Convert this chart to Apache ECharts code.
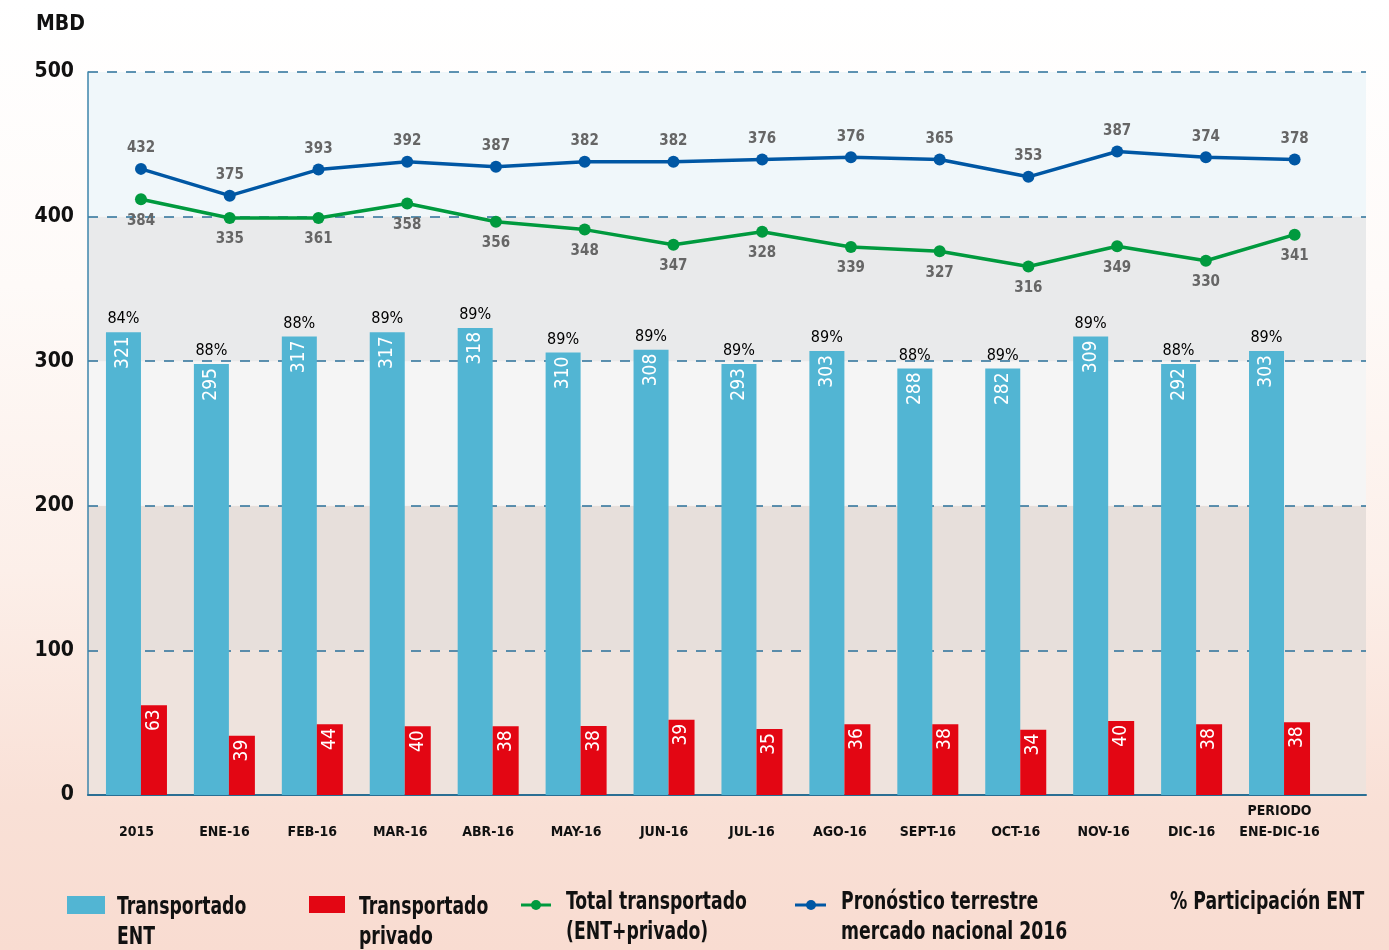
<!DOCTYPE html>
<html>
<head>
<meta charset="utf-8">
<script src="https://cdn.jsdelivr.net/npm/echarts@6/dist/echarts.min.js"></script>
<style>
  html, body { margin: 0; padding: 0; background: #fff; }
  #main { width: 1389px; height: 950px; }
</style>
</head>
<body>
<div id="main"></div>
<script>
// categorias y valores (alturas, etiquetas tal como aparecen)
var categories = ['2015', 'ENE-16', 'FEB-16', 'MAR-16', 'ABR-16', 'MAY-16', 'JUN-16', 'JUL-16',
  'AGO-16', 'SEPT-16', 'OCT-16', 'NOV-16', 'DIC-16', 'PERIODO\nENE-DIC-16'];
var entValues = [320, 298, 317, 320, 323, 306, 308, 298, 307, 295, 295, 317, 298, 307];
var entLabels = [321, 295, 317, 317, 318, 310, 308, 293, 303, 288, 282, 309, 292, 303];
var privValues = [62, 41, 49, 47.5, 47.5, 47.7, 52, 45.6, 49, 49, 45.2, 51.2, 49, 50.3];
var privLabels = [63, 39, 44, 40, 38, 38, 39, 35, 36, 38, 34, 40, 38, 38];
var totalValues = [412, 399, 399, 409, 396.5, 391, 380.5, 389.5, 379, 376, 365.5, 379.5, 369.5, 387.5];
var totalLabels = [384, 335, 361, 358, 356, 348, 347, 328, 339, 327, 316, 349, 330, 341];
var forecastValues = [433, 414.5, 432.5, 438, 434.5, 438, 438, 439.5, 441, 439.5, 427.5, 445, 441, 439.5];
var forecastLabels = [432, 375, 393, 392, 387, 382, 382, 376, 376, 365, 353, 387, 374, 378];
var pctLabels = ['84%', '88%', '88%', '89%', '89%', '89%', '89%', '89%', '89%', '88%', '89%', '89%', '88%', '89%'];
var yTicks = [0, 100, 200, 300, 400, 500];

var FONT = '"DejaVu Sans Condensed", "Liberation Sans Narrow", sans-serif';
var BLUE_BAR = '#52b5d3';
var RED_BAR = '#e30613';
var GREEN = '#009a3e';
var DARK_BLUE = '#0057a4';

var chart = echarts.init(document.getElementById('main'));

var hiddenY = { type: 'value', min: 0, max: 500, show: false };
var hiddenX = function (grid) {
  return { type: 'category', gridIndex: grid, data: categories, show: false };
};
function byIndex(arr) {
  return function (p) { return String(arr[p.dataIndex]); };
}
// texto de leyenda, comprimido en horizontal como la tipografia condensada del original
function legendText(x, y, txt) {
  return {
    type: 'text', x: x, y: y, scaleX: 0.8,
    style: { text: txt, font: 'bold 24px ' + FONT, fill: '#111', lineHeight: 30 }
  };
}

var option = {
  backgroundColor: {
    type: 'linear', x: 0, y: 0, x2: 0, y2: 1,
    colorStops: [
      { offset: 0, color: '#ffffff' },
      { offset: 0.3, color: '#fefaf8' },
      { offset: 0.6, color: '#fcefe9' },
      { offset: 0.85, color: '#f9e0d6' },
      { offset: 1, color: '#f9dcd1' }
    ]
  },
  title: {
    text: 'MBD', left: 31, top: 9,
    textStyle: { fontFamily: FONT, fontSize: 21, fontWeight: 'bold', color: '#111' }
  },
  grid: [
    { left: 88, right: 23, top: 72, bottom: 155 },     // fondo y ejes
    { left: 92.5, right: 65.5, top: 72, bottom: 155 }, // barras
    { left: 96.6, right: 50, top: 72, bottom: 155 },   // lineas
    { left: 79.5, right: 78.6, top: 72, bottom: 155 }  // % participacion
  ],
  xAxis: [
    {
      type: 'value', gridIndex: 0, min: 0, max: 1,
      axisLine: { show: true, lineStyle: { color: '#2a6f94', width: 2 } },
      axisTick: { show: false }, axisLabel: { show: false }, splitLine: { show: false }
    },
    {
      type: 'category', gridIndex: 1, data: categories,
      axisLine: { show: false }, axisTick: { show: false },
      axisLabel: {
        interval: 0, margin: 48, verticalAlign: 'bottom', lineHeight: 21,
        fontFamily: FONT, fontSize: 14, fontWeight: 'bold', color: '#111'
      }
    },
    hiddenX(2),
    hiddenX(3)
  ],
  yAxis: [
    {
      type: 'value', gridIndex: 0, min: 0, max: 500, interval: 100,
      axisLine: { show: true, lineStyle: { color: '#3d85ab', width: 1.5 } },
      axisTick: { show: false },
      axisLabel: {
        margin: 14, fontFamily: FONT, fontSize: 21, fontWeight: 'bold', color: '#111',
        formatter: function (v) { return yTicks.indexOf(v) >= 0 ? String(v) : ''; }
      },
      splitLine: { show: true, lineStyle: { color: '#2a7099', width: 1.5, type: [10, 9] } },
      splitArea: {
        show: true,
        areaStyle: { color: ['#eee3dd', '#e7dfdb', '#f5f5f5', '#e9eaeb', '#f0f7fa'] }
      }
    },
    Object.assign({ gridIndex: 1 }, hiddenY),
    Object.assign({ gridIndex: 2 }, hiddenY),
    Object.assign({ gridIndex: 3 }, hiddenY)
  ],
  graphic: [
    // leyenda
    { type: 'rect', shape: { x: 67, y: 896, width: 38, height: 18 }, style: { fill: BLUE_BAR } },
    legendText(117, 893, 'Transportado\nENT'),
    { type: 'rect', shape: { x: 309, y: 896, width: 36, height: 17 }, style: { fill: RED_BAR } },
    legendText(359, 893, 'Transportado\nprivado'),
    { type: 'line', shape: { x1: 521, y1: 905, x2: 551, y2: 905 }, style: { stroke: GREEN, lineWidth: 3 } },
    { type: 'circle', shape: { cx: 536, cy: 905, r: 5 }, style: { fill: GREEN } },
    legendText(566, 888, 'Total transportado\n(ENT+privado)'),
    { type: 'line', shape: { x1: 795, y1: 905, x2: 826, y2: 905 }, style: { stroke: DARK_BLUE, lineWidth: 3 } },
    { type: 'circle', shape: { cx: 811, cy: 905, r: 5 }, style: { fill: DARK_BLUE } },
    legendText(841, 888, 'Pronóstico terrestre\nmercado nacional 2016'),
    legendText(1170, 888, '% Participación ENT')
  ],
  series: [
    {
      name: 'Transportado ENT', type: 'bar', xAxisIndex: 1, yAxisIndex: 1,
      data: entValues, barWidth: 35, barGap: 0,
      itemStyle: { color: BLUE_BAR },
      label: {
        show: true, position: 'insideTop', rotate: 90, align: 'right', verticalAlign: 'middle',
        distance: 4, fontFamily: FONT, fontSize: 19, color: '#fff',
        formatter: byIndex(entLabels)
      }
    },
    {
      name: 'Transportado privado', type: 'bar', xAxisIndex: 1, yAxisIndex: 1,
      data: privValues, barWidth: 26,
      itemStyle: { color: RED_BAR },
      label: {
        show: true, position: 'insideTop', rotate: 90, align: 'right', verticalAlign: 'middle',
        distance: 4, fontFamily: FONT, fontSize: 19, color: '#fff',
        formatter: byIndex(privLabels)
      }
    },
    {
      name: '% Participación ENT', type: 'bar', xAxisIndex: 3, yAxisIndex: 3,
      data: entValues, barWidth: 35, silent: true,
      itemStyle: { color: 'rgba(0,0,0,0)' },
      label: {
        show: true, position: 'top', distance: 5,
        fontFamily: FONT, fontSize: 16, color: '#000',
        formatter: byIndex(pctLabels)
      }
    },
    {
      name: 'Total transportado (ENT+privado)', type: 'line', xAxisIndex: 2, yAxisIndex: 2,
      data: totalValues, symbol: 'circle', symbolSize: 12, z: 5,
      lineStyle: { color: GREEN, width: 3.5 }, itemStyle: { color: GREEN },
      label: {
        show: true, position: 'bottom', distance: 8,
        fontFamily: FONT, fontSize: 15, fontWeight: 'bold', color: '#666',
        formatter: byIndex(totalLabels)
      }
    },
    {
      name: 'Pronóstico terrestre mercado nacional 2016', type: 'line', xAxisIndex: 2, yAxisIndex: 2,
      data: forecastValues, symbol: 'circle', symbolSize: 12, z: 5,
      lineStyle: { color: DARK_BLUE, width: 3.5 }, itemStyle: { color: DARK_BLUE },
      label: {
        show: true, position: 'top', distance: 7,
        fontFamily: FONT, fontSize: 15, fontWeight: 'bold', color: '#666',
        formatter: byIndex(forecastLabels)
      }
    }
  ]
};

chart.setOption(option);
</script>
</body>
</html>
